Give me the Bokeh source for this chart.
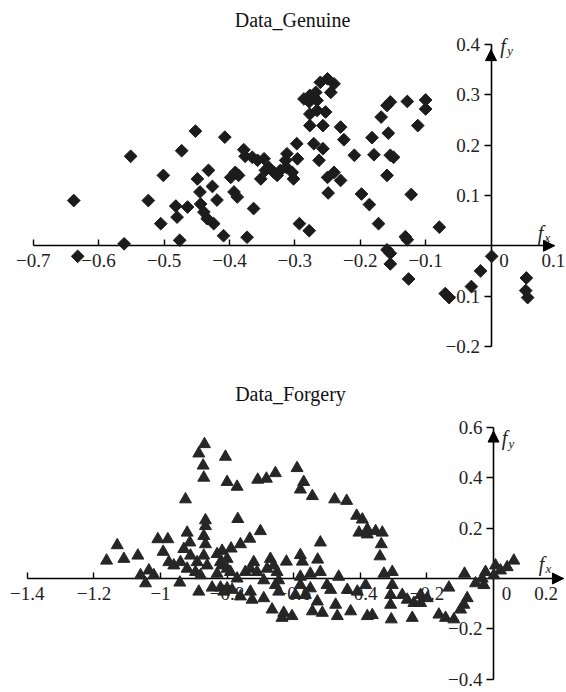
import numpy as np
from bokeh.plotting import figure
from bokeh.layouts import column
from bokeh.models import Label, Arrow, NormalHead, FixedTicker
from bokeh.embed import file_html
from bokeh.resources import INLINE

SERIF = "Liberation Serif"

# ---------------- data: Data_Genuine ----------------
genuine_fx = [-0.638, -0.632, -0.551, -0.561, -0.501, -0.524, -0.473, -0.482, -0.480, -0.505, -0.476, -0.464,
              -0.452, -0.407, -0.449, -0.432, -0.445, -0.426, -0.444, -0.439, -0.419, -0.434, -0.424, -0.409,
              -0.373, -0.363, -0.393, -0.388, -0.398, -0.391, -0.386, -0.378, -0.376, -0.365, -0.357, -0.347,
              -0.352, -0.345, -0.340, -0.332, -0.322, -0.327, -0.314, -0.312, -0.313, -0.304, -0.302, -0.296,
              -0.297, -0.293, -0.278, -0.286, -0.277, -0.278, -0.268, -0.261, -0.250, -0.240, -0.245, -0.266,
              -0.277, -0.266, -0.253, -0.277, -0.257, -0.271, -0.257, -0.263, -0.230, -0.225, -0.250, -0.240,
              -0.230, -0.249,
              -0.209, -0.198, -0.186, -0.182, -0.179, -0.172, -0.168, -0.159, -0.154, -0.157, -0.154, -0.149,
              -0.159, -0.128, -0.100, -0.100, -0.112, -0.122, -0.079, -0.131, -0.128, -0.159, -0.154, -0.154,
              -0.126, -0.070, -0.064, -0.030, -0.016, 0.001, 0.054, 0.053, 0.056]
genuine_fy = [0.090, -0.021, 0.178, 0.004, 0.140, 0.090, 0.189, 0.079, 0.057, 0.044, 0.011, 0.077,
              0.228, 0.216, 0.133, 0.150, 0.107, 0.118, 0.083, 0.067, 0.091, 0.054, 0.044, 0.020,
              0.017, 0.074, 0.107, 0.097, 0.136, 0.146, 0.140, 0.191, 0.178, 0.176, 0.170, 0.173,
              0.133, 0.150, 0.156, 0.146, 0.150, 0.140, 0.170, 0.183, 0.156, 0.146, 0.133, 0.173,
              0.203, 0.044, 0.030, 0.292, 0.299, 0.286, 0.305, 0.325, 0.332, 0.322, 0.305, 0.289,
              0.262, 0.269, 0.266, 0.239, 0.239, 0.203, 0.193, 0.170, 0.236, 0.211, 0.136, 0.146,
              0.130, 0.105,
              0.180, 0.103, 0.082, 0.215, 0.181, 0.044, 0.256, 0.279, 0.286, 0.224, 0.180, 0.176,
              0.140, 0.287, 0.290, 0.272, 0.239, 0.102, 0.037, 0.018, 0.012, -0.008, -0.015, -0.036,
              -0.066, -0.095, -0.103, -0.081, -0.050, -0.021, -0.064, -0.089, -0.103]

# ---------------- data: Data_Forgery ----------------
forgery_fx = [-0.868, -0.885, -0.872, -0.870, -0.805, -0.800, -0.925, -0.865, -0.865, -1.130, -1.162, -1.110,
              -1.068, -1.008, -0.978, -0.992, -0.975, -1.060, -1.035, -1.020, -1.045, -0.942, -0.960, -0.920,
              -0.912, -0.930, -0.910, -0.940, -0.920, -0.890, -0.895, -0.870, -0.865, -0.870, -0.860, -0.880,
              -0.830, -0.820, -0.800, -0.830, -0.845, -0.820, -0.800, -0.885,
              -0.770, -0.708, -0.682, -0.655, -0.590, -0.570, -0.580, -0.544, -0.477, -0.441, -0.411, -0.394,
              -0.404, -0.379, -0.768, -0.700, -0.732, -0.760, -0.788, -0.815, -0.800, -0.720, -0.730, -0.710,
              -0.745, -0.670, -0.660, -0.680, -0.650, -0.622, -0.580, -0.574, -0.528, -0.520, -0.550, -0.520,
              -0.580, -0.690, -0.645, -0.810, -0.785, -0.760, -0.730, -0.725, -0.690, -0.655, -0.645, -0.665,
              -0.635, -0.630, -0.605, -0.595, -0.580, -0.565, -0.550, -0.544, -0.529, -0.514, -0.500, -0.489,
              -0.474, -0.469, -0.465, -0.439, -0.429, -0.409, -0.384, -0.379, -0.815, -0.790, -0.770,
              -0.379, -0.354, -0.334, -0.337, -0.341, -0.329, -0.304, -0.304, -0.309, -0.309, -0.307, -0.364,
              -0.274, -0.259, -0.239, -0.244, -0.219, -0.199, -0.219, -0.134, -0.164, -0.144, -0.119, -0.099,
              -0.089, -0.079, -0.087, -0.054, -0.034, -0.024, 0.006, 0.021, 0.041, 0.061, -0.029, 0.001]
forgery_fy = [0.533, 0.496, 0.448, 0.400, 0.483, 0.383, 0.314, 0.231, 0.208, 0.132, 0.071, 0.078,
              0.091, 0.156, 0.156, 0.106, 0.065, 0.013, 0.032, 0.013, -0.019, -0.016, 0.052, 0.182,
              0.143, 0.117, 0.091, 0.065, 0.039, 0.065, 0.026, 0.169, 0.136, 0.091, 0.052, 0.013,
              0.097, 0.065, 0.039, 0.019, -0.036, -0.036, -0.039, -0.052,
              0.364, 0.392, 0.396, 0.418, 0.438, 0.383, 0.353, 0.327, 0.314, 0.308, 0.249, 0.234,
              0.182, 0.175, 0.236, 0.188, 0.158, 0.136, 0.119, 0.110, 0.078, 0.065, 0.039, 0.026,
              0.026, 0.078, 0.052, 0.039, 0.026, 0.067, 0.093, 0.067, 0.075, 0.143, 0.019, 0.026,
              0.007, -0.007, -0.007, -0.052, -0.045, -0.071, -0.052, -0.084, -0.078, -0.026, -0.052, -0.123,
              -0.156, -0.136, -0.149, -0.065, -0.026, -0.065, -0.039, -0.130, -0.091, -0.136, -0.026, -0.045,
              -0.104, -0.149, 0.007, -0.045, -0.130, -0.052, -0.026, -0.149, 0.052, 0.026, 0.000,
              0.195, 0.188, 0.182, 0.136, 0.088, 0.019, 0.026, -0.026, -0.065, -0.104, -0.162, -0.145,
              -0.065, -0.084, -0.097, -0.156, -0.065, -0.078, -0.097, -0.036, -0.143, -0.156, -0.162, -0.123,
              -0.104, -0.078, 0.019, -0.019, 0.000, 0.026, 0.052, 0.032, 0.045, 0.071, -0.026, 0.013]

# ---------------- ticks ----------------
genuine_xticks = [-0.7, -0.6, -0.5, -0.4, -0.3, -0.2, -0.1]
genuine_xtick_labels = ["\u22120.7", "\u22120.6", "\u22120.5", "\u22120.4", "\u22120.3", "\u22120.2", "\u22120.1"]
genuine_x_end = 0.1
genuine_x_end_label = "0.1"
genuine_yticks = [-0.2, -0.1, 0.1, 0.2, 0.3, 0.4]
genuine_ytick_labels = ["\u22120.2", "\u22120.1", "0.1", "0.2", "0.3", "0.4"]

forgery_xticks = [-1.4, -1.2, -1.0, -0.8, -0.6, -0.4, -0.2]
forgery_xtick_labels = ["\u22121.4", "\u22121.2", "\u22121", "\u22120.8", "\u22120.6", "\u22120.4", "\u22120.2"]
forgery_x_end = 0.2
forgery_x_end_label = "0.2"
forgery_yticks = [-0.4, -0.2, 0.2, 0.4, 0.6]
forgery_ytick_labels = ["\u22120.4", "\u22120.2", "0.2", "0.4", "0.6"]

W = 566
TICK_FS = "19px"
INK = "#222222"


def panel(title, xs, ys, marker, msize, mangle, mcolor, height, xr, yr,
          xticks, xlabels, x_end, x_end_label, x_end_off, x_tip,
          yticks, ylabels, y_tip, title_xy, fx_off, fy_off):
    p = figure(width=W, height=height, x_range=xr, y_range=yr,
               output_backend="svg", toolbar_location=None, title=None,
               min_border=0, min_border_left=0, min_border_right=0,
               min_border_top=0, min_border_bottom=0)
    p.outline_line_color = None
    p.grid.visible = False
    p.background_fill_color = "white"
    p.border_fill_color = "white"

    p.scatter(xs, ys, marker=marker, size=msize, angle=mangle,
              fill_color=mcolor, line_color=mcolor)

    xa = p.xaxis[0]
    xa.fixed_location = 0
    xa.bounds = (xticks[0], x_tip)
    xa.ticker = FixedTicker(ticks=xticks)
    xa.major_label_overrides = dict(zip(xticks, xlabels))
    xa.major_tick_in = 6
    xa.major_tick_out = 0
    xa.minor_tick_line_color = None
    xa.axis_line_width = 1.6
    xa.major_tick_line_width = 1.4
    xa.major_label_standoff = 8
    xa.major_label_text_font = SERIF
    xa.major_label_text_font_size = TICK_FS
    xa.major_label_text_color = INK
    xa.level = "underlay"

    ya = p.yaxis[0]
    ya.fixed_location = 0
    ya.bounds = (yticks[0], yticks[-1])
    ya.ticker = FixedTicker(ticks=yticks)
    ya.major_label_overrides = dict(zip(yticks, ylabels))
    ya.major_tick_in = 0
    ya.major_tick_out = 7
    ya.minor_tick_line_color = None
    ya.axis_line_width = 1.6
    ya.major_tick_line_width = 1.4
    ya.major_label_standoff = 4
    ya.major_label_text_font = SERIF
    ya.major_label_text_font_size = TICK_FS
    ya.major_label_text_color = INK
    ya.level = "underlay"

    head = dict(size=11, fill_color="black", line_color="black")
    p.add_layout(Arrow(end=NormalHead(**head), start=None, x_start=x_tip * 0.5, y_start=0,
                       x_end=x_tip, y_end=0, line_alpha=0))
    p.add_layout(Arrow(end=NormalHead(**head), start=None, x_start=0, y_start=y_tip * 0.5,
                       x_end=0, y_end=y_tip, line_alpha=0))

    # origin and end tick labels
    p.add_layout(Label(x=0, y=0, text="0", x_offset=13, y_offset=-8,
                       text_align="center", text_baseline="top",
                       text_font=SERIF, text_font_size=TICK_FS, text_color=INK))
    p.add_layout(Label(x=x_end, y=0, text=x_end_label, x_offset=x_end_off, y_offset=-8,
                       text_align="center", text_baseline="top",
                       text_font=SERIF, text_font_size=TICK_FS, text_color=INK))

    # axis names
    p.add_layout(Label(x=x_tip, y=0, text="f", x_offset=fx_off[0], y_offset=fx_off[1],
                       text_align="center", text_baseline="middle", text_font_style="italic",
                       text_font=SERIF, text_font_size="20px", text_color=INK))
    p.add_layout(Label(x=x_tip, y=0, text="x", x_offset=fx_off[0] + 7, y_offset=fx_off[1] - 5,
                       text_align="center", text_baseline="middle", text_font_style="italic",
                       text_font=SERIF, text_font_size="13px", text_color=INK))
    p.add_layout(Label(x=0, y=yticks[-1], text="f", x_offset=fy_off[0], y_offset=fy_off[1],
                       text_align="center", text_baseline="middle", text_font_style="italic",
                       text_font=SERIF, text_font_size="20px", text_color=INK))
    p.add_layout(Label(x=0, y=yticks[-1], text="y", x_offset=fy_off[0] + 7, y_offset=fy_off[1] - 5,
                       text_align="center", text_baseline="middle", text_font_style="italic",
                       text_font=SERIF, text_font_size="13px", text_color=INK))

    # title
    p.add_layout(Label(x=title_xy[0], y=title_xy[1], x_units="screen", y_units="screen",
                       text=title, text_align="center", text_baseline="middle",
                       text_font=SERIF, text_font_size="20px", text_color="#111111"))
    return p


p1 = panel("Data_Genuine", genuine_fx, genuine_fy, "square", 9, np.pi / 4, "#1c1c1c", 365,
           (-0.750, 0.1154), (-0.238, 0.4877),
           genuine_xticks, genuine_xtick_labels, genuine_x_end, genuine_x_end_label, -3, 0.097,
           genuine_yticks, genuine_ytick_labels, 0.39, (292, 346), (-14, 13), (12, -1))

p2 = panel("Data_Forgery", forgery_fx, forgery_fy, "triangle", 12, 0.0, "#262626", 327,
           (-1.4805, 0.2192), (-0.452, 0.845),
           forgery_xticks, forgery_xtick_labels, forgery_x_end, forgery_x_end_label, -14, 0.21,
           forgery_yticks, forgery_ytick_labels, 0.585, (290, 299), (-22, 15), (11, -11))

layout = column(p1, p2, spacing=0)
open("out.html", "w").write(file_html(layout, INLINE))
